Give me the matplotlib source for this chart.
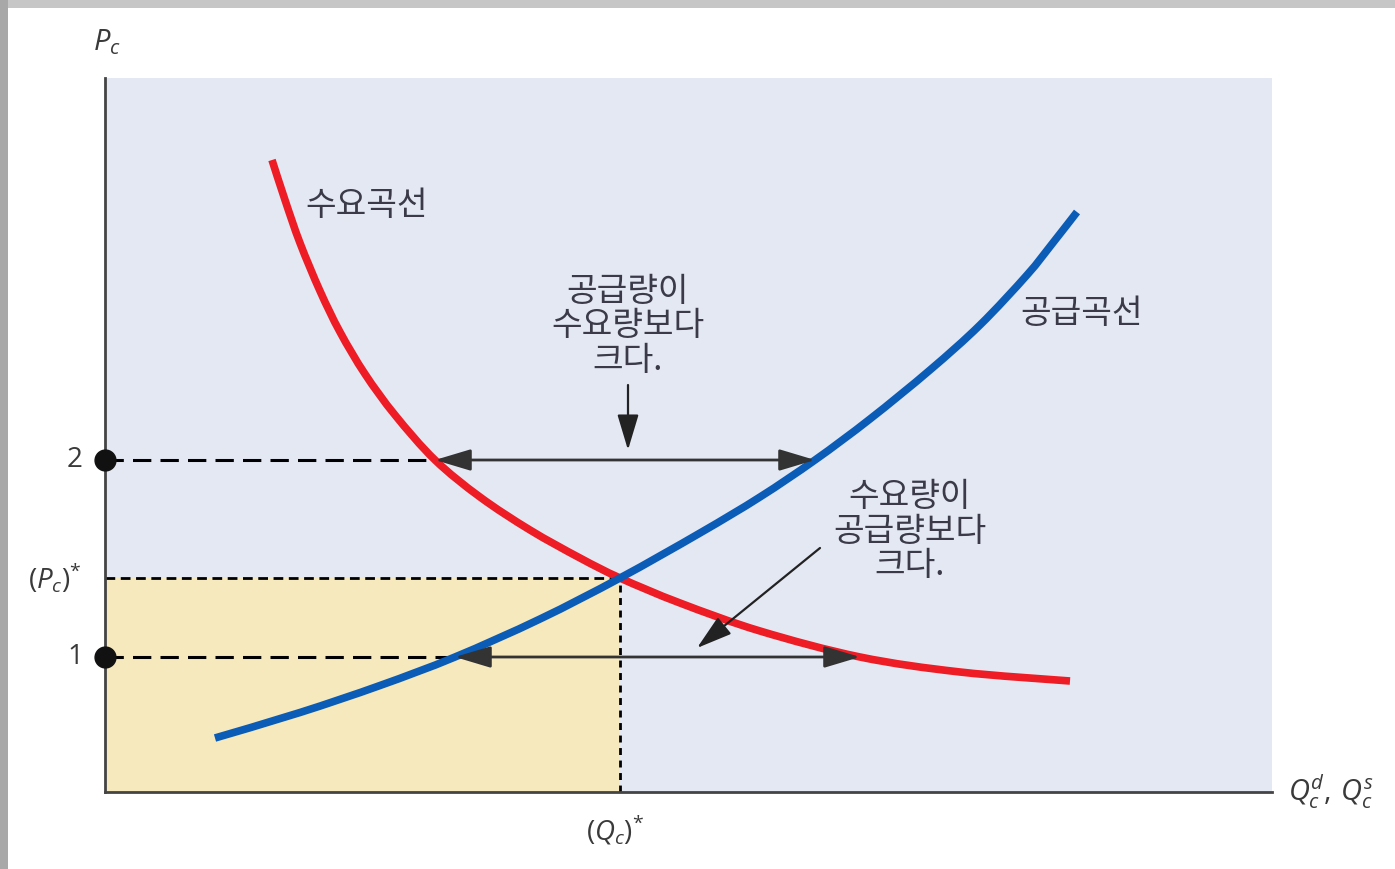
import matplotlib
matplotlib.use("Agg")
import matplotlib.pyplot as plt
import numpy as np
from matplotlib.patches import Rectangle, PathPatch
from matplotlib.path import Path

# ---------------- data (quantity, price) ----------------
demand_q = [16.7, 18.0, 19.5, 21.5, 23.5, 26.0, 29.0, 33.0, 37.5, 42.5, 47.5, 51.5, 57.5, 65.5, 75.5, 85.5, 96.5]
demand_p = [63.2, 59.2, 54.9, 50.1, 46.0, 41.8, 37.7, 33.2, 29.5, 26.2, 23.4, 21.4, 18.9, 16.1, 13.5, 12.0, 11.1]

supply_q = [11.0, 19.5, 27.5, 35.0, 43.5, 51.5, 59.5, 65.5, 71.0, 76.5, 82.5, 87.5, 92.2, 94.7, 97.2]
supply_p = [5.4, 7.95, 10.65, 13.5, 17.3, 21.4, 25.9, 29.5, 33.2, 37.3, 42.2, 46.7, 51.7, 54.8, 58.0]

q_star, p_star = 51.5, 21.4
price_levels = [33.2, 13.5]          # prices "2" and "1"
price_labels = ["2", "1"]
demand_at_price = [33.0, 75.5]
supply_at_price = [71.0, 35.0]

labels_kr = {
    "demand": "수요곡선",
    "supply": "공급곡선",
    "surplus": "공급량이\n수요량보다\n크다.",
    "shortage": "수요량이\n공급량보다\n크다.",
}


def smooth_path(xs, ys):
    """Catmull-Rom curve through the given points, as cubic Bezier segments."""
    pts = np.column_stack([xs, ys]).astype(float)
    n = len(pts)
    verts = [pts[0]]
    codes = [Path.MOVETO]
    for i in range(n - 1):
        p0 = pts[i - 1] if i > 0 else pts[i]
        p1 = pts[i]
        p2 = pts[i + 1]
        p3 = pts[i + 2] if i + 2 < n else pts[i + 1]
        verts += [p1 + (p2 - p0) / 6.0, p2 - (p3 - p1) / 6.0, p2]
        codes += [Path.CURVE4] * 3
    return Path(verts, codes)


# ---------------- styling ----------------
plt.rcParams["mathtext.fontset"] = "custom"
plt.rcParams["mathtext.rm"] = "Open Sans"
plt.rcParams["mathtext.it"] = "Open Sans:italic"
KR = ["Noto Sans CJK KR", "DejaVu Sans"]
TXT = "#3a3a48"

W, H = 1395, 869
fig = plt.figure(figsize=(W / 100, H / 100), dpi=100)
fig.patch.set_facecolor("white")

# gray frame bands
fig.add_artist(Rectangle((0, 1 - 8 / H), 1, 8 / H, transform=fig.transFigure,
                         facecolor="#c6c6c6", edgecolor="none"))
fig.add_artist(Rectangle((0, 0), 8 / W, 1, transform=fig.transFigure,
                         facecolor="#a8a8a8", edgecolor="none"))

ax = fig.add_axes([105 / W, (H - 792) / H, 1167 / W, 714 / H])
ax.set_facecolor("#e3e8f3")
ax.set_xlim(0, 116.7)
ax.set_ylim(0, 71.4)
for s in ["top", "right"]:
    ax.spines[s].set_visible(False)
for s in ["left", "bottom"]:
    ax.spines[s].set_color("#444444")
    ax.spines[s].set_linewidth(2)
ax.set_xticks([])
ax.set_yticks([])

# equilibrium region
ax.add_patch(Rectangle((0, 0), q_star, p_star, facecolor="#f5e9bd", edgecolor="none", zorder=1))
ax.plot([0, q_star], [p_star, p_star], color="black", lw=2, dashes=(3.5, 2), zorder=2)
ax.plot([q_star, q_star], [0, p_star], color="black", lw=2, dashes=(2.5, 2), zorder=2)

# price-level dashed lines and dots
ax.plot([0, demand_at_price[0]], [price_levels[0]] * 2, color="black", lw=2.2, dashes=(6, 3), zorder=2)
ax.plot([0, supply_at_price[1]], [price_levels[1]] * 2, color="black", lw=2.2, dashes=(6, 3), zorder=2)
ax.plot([0, 0], price_levels, "o", color="#111111", ms=15, clip_on=False, zorder=6)

# double arrows
for y, a, b in zip(price_levels, demand_at_price, supply_at_price):
    x0, x1 = min(a, b), max(a, b)
    ax.annotate("", xy=(x1, y), xytext=(x0, y),
                arrowprops=dict(arrowstyle="<|-|>,head_length=1.0,head_width=0.3",
                                color="#333333", lw=2, shrinkA=0, shrinkB=0,
                                mutation_scale=22),
                zorder=4)

# curves
ax.add_patch(PathPatch(smooth_path(demand_q, demand_p), facecolor="none", edgecolor="#ee1c24",
                       lw=5.5, capstyle="butt", joinstyle="round", zorder=3))
ax.add_patch(PathPatch(smooth_path(supply_q, supply_p), facecolor="none", edgecolor="#0a5cb7",
                       lw=5.5, capstyle="butt", joinstyle="round", zorder=3))

# Korean labels
FS = 24
ax.text(20.0, 58.7, labels_kr["demand"], family=KR, fontsize=FS, color=TXT, va="center", ha="left")
ax.text(91.5, 47.9, labels_kr["supply"], family=KR, fontsize=FS, color=TXT, va="center", ha="left")
ax.text(52.3, 46.6, labels_kr["surplus"], family=KR, fontsize=FS, color=TXT, va="center",
        ha="center", linespacing=0.98)
ax.text(80.5, 26.1, labels_kr["shortage"], family=KR, fontsize=FS, color=TXT, va="center",
        ha="center", linespacing=0.98)

# pointer arrows
ax.annotate("", xy=(52.3, 34.2), xytext=(52.3, 40.7),
            arrowprops=dict(arrowstyle="-|>,head_length=1.0,head_width=0.3", color="#222222",
                            lw=1.6, shrinkA=0, shrinkB=0, mutation_scale=22), zorder=4)
ax.annotate("", xy=(59.2, 14.4), xytext=(71.5, 24.4),
            arrowprops=dict(arrowstyle="-|>,head_length=1.0,head_width=0.3", color="#222222",
                            lw=1.6, shrinkA=0, shrinkB=0, mutation_scale=22), zorder=4)

# axis labels
LBL = "#3a3a3a"
ax.text(0.2, 75.0, r"$P_c$", fontsize=21, color=LBL, ha="center", va="center", clip_on=False)
ax.text(-3.0, price_levels[0], price_labels[0], fontsize=20, color=LBL, family="Open Sans",
        ha="center", va="center", clip_on=False)
ax.text(-3.0, price_levels[1], price_labels[1], fontsize=20, color=LBL, family="Open Sans",
        ha="center", va="center", clip_on=False)
ax.text(-5.0, p_star, r"$(P_c)^{*}$", fontsize=20, color=LBL, ha="center", va="center", clip_on=False)
ax.text(q_star - 0.5, -3.8, r"$(Q_c)^{*}$", fontsize=20, color=LBL, ha="center", va="center", clip_on=False)
ax.text(118.3, 0.0, r"$Q_c^d,\,Q_c^s$", fontsize=21, color=LBL, ha="left", va="center", clip_on=False)

fig.savefig("out.png", dpi=100)
